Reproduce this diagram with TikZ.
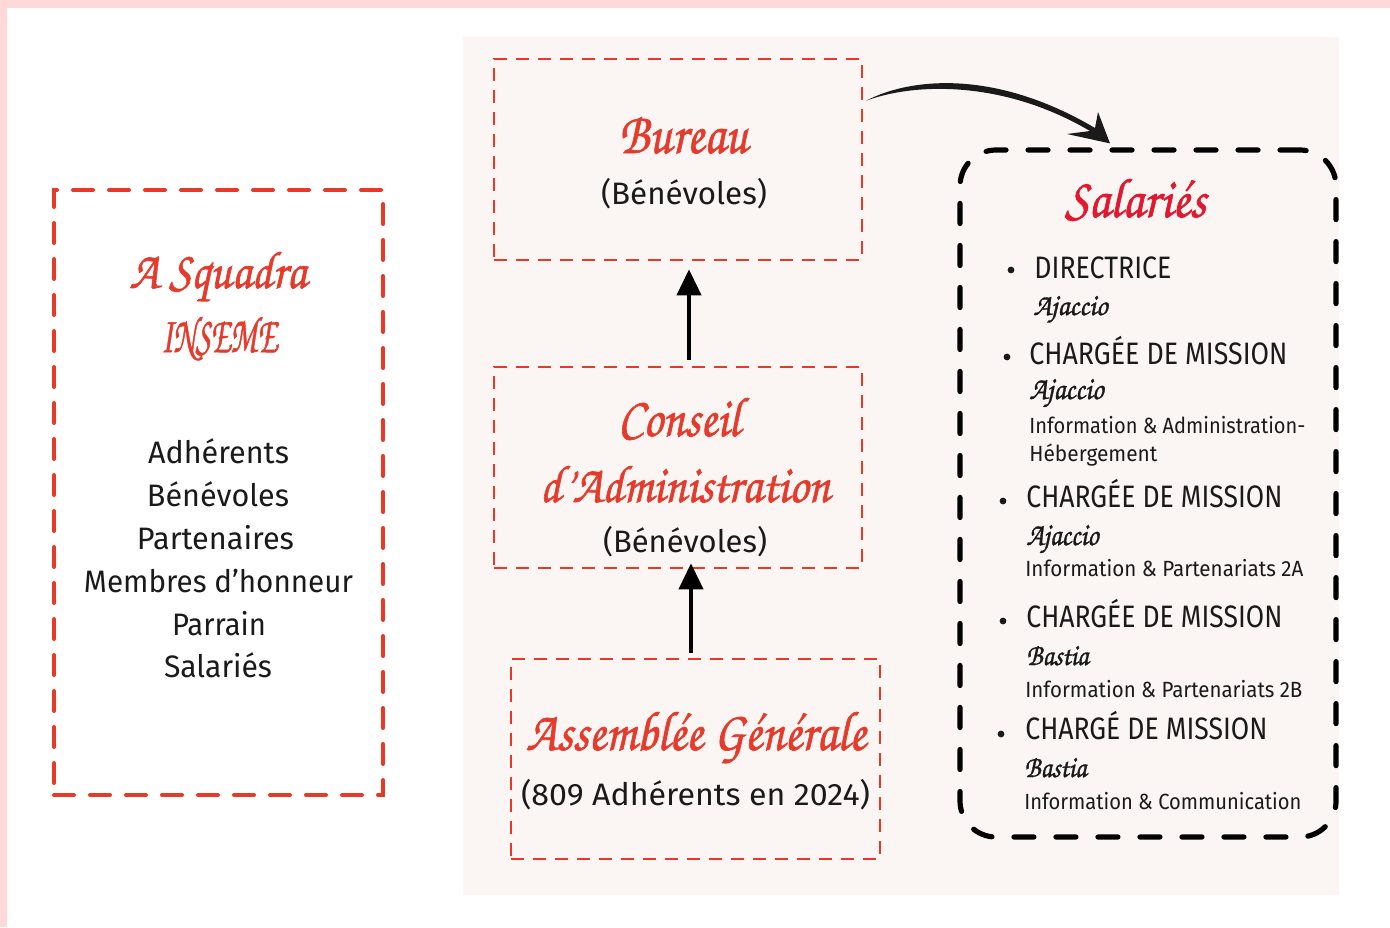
\documentclass[tikz,border=0pt]{standalone}
\usepackage{graphicx}
\usepackage{fontspec}
\setmainfont{Fira Sans}
\newfontfamily\scr[AutoFakeBold=1.2]{texgyrechorus-mediumitalic.otf}
\usetikzlibrary{arrows.meta,calc}
\definecolor{pinkb}{HTML}{FFD9DA}
\definecolor{panel}{HTML}{FBF6F4}
\definecolor{boxred}{HTML}{E63A26}
\definecolor{titred}{HTML}{E53B2C}
\definecolor{salred}{HTML}{E1192E}
\definecolor{ink}{HTML}{1A1A1A}
\newcommand\fw[2]{\resizebox{#1}{\height}{#2}}
\newcommand\sh[3]{\resizebox{#1}{#2}{\scr\bfseries #3}}
\tikzset{
  redbox/.style={draw=boxred, line width=1.3pt, dash pattern=on 6.5pt off 4.5pt, inner sep=0pt},
  bigred/.style={draw=boxred, line width=2pt, line cap=round, dash pattern=on 10pt off 8pt, inner sep=0pt},
  blackbox/.style={draw=black, line width=2.6pt, line cap=round, dash pattern=on 10pt off 11pt, rounded corners=18pt, inner sep=0pt},
  body/.style={font=\fontsize{15.5}{18}\selectfont, text=ink, inner sep=0pt},
  small/.style={font=\fontsize{11}{13}\selectfont, text=ink, inner sep=0pt},
  ttl/.style={text=titred, inner sep=0pt},
  vert/.style={line width=2pt, -{Triangle[length=13pt,width=12pt]}},
  bul/.style={circle, fill=ink, inner sep=0pt, minimum size=3.4pt},
}
\begin{document}
\begin{tikzpicture}[x=0.5pt,y=-0.5pt]
\useasboundingbox (0,0) rectangle (1390,927);
\fill[white] (0,0) rectangle (1390,927);
\fill[pinkb] (0,0) rectangle (1390,8);
\fill[pinkb] (0,0) rectangle (7,927);
\fill[panel] (463,37) rectangle (1339,895);

% boxes
\node[bigred, minimum width=164.5pt, minimum height=302.5pt] (left) at (218.5,492.5) {};
\node[redbox, minimum width=184pt, minimum height=100.5pt] (bureau) at (678,159.5) {};
\node[redbox, minimum width=184pt, minimum height=100.5pt] (conseil) at (678,467.5) {};
\node[redbox, minimum width=184.5pt, minimum height=100pt] (assemb) at (695.5,759) {};
\node[blackbox, minimum width=188pt, minimum height=343.5pt] (salaries) at (1148,493.5) {};

% left box text
\node[ttl, anchor=base] (sq1) at (218,288) {\sh{88.5pt}{18pt}{A Squadra}};
\node[ttl, anchor=base] (sq2) at (219,352) {\sh{58pt}{17.5pt}{INSEME}};
\node[body, anchor=base] (l1) at (218.5,463) {\fw{70.5pt}{Adhérents}};
\node[body, anchor=base] (l2) at (218,506) {\fw{71pt}{Bénévoles}};
\node[body, anchor=base] (l3) at (215.5,549) {\fw{78.5pt}{Partenaires}};
\node[body, anchor=base] (l4) at (218.5,592) {\fw{134.5pt}{Membres d’honneur}};
\node[body, anchor=base] (l5) at (219,635) {\fw{47pt}{Parrain}};
\node[body, anchor=base] (l6) at (218,677) {\fw{54pt}{Salariés}};

% bureau
\node[ttl, anchor=base] (bt) at (683.5,153) {\sh{64.5pt}{18pt}{Bureau}};
\node[body, anchor=base] (bb) at (684,204) {\fw{83pt}{(Bénévoles)}};
% conseil
\node[ttl, anchor=base] (ct1) at (679,436) {\sh{61pt}{19pt}{Conseil}};
\node[ttl, anchor=base] (ct2) at (685,502) {\sh{145pt}{18pt}{d’Administration}};
\node[body, anchor=base] (cb) at (685,552) {\fw{82pt}{(Bénévoles)}};
% assemblee
\node[ttl, anchor=base] (at) at (696,750) {\sh{170pt}{19pt}{Assemblée Générale}};
\node[body, anchor=base] (ab) at (695.5,805) {\fw{174.5pt}{(809 Adhérents en 2024)}};

% salaries
\node[anchor=base, inner sep=0pt, text=salred] (st) at (1135.5,217) {\sh{70.5pt}{19pt}{Salariés}};

\node[bul] (b1) at (1011,270) {};
\node[body, anchor=base west] (d1) at (1034,278) {\fw{68.5pt}{DIRECTRICE}};
\node[anchor=base west, inner sep=0pt, text=ink] (p1) at (1033,315) {\sh{37pt}{9.5pt}{Ajaccio}};

\node[bul] (b2) at (1007,357) {};
\node[body, anchor=base west] (d2) at (1029,364) {\fw{129pt}{CHARGÉE DE MISSION}};
\node[anchor=base west, inner sep=0pt, text=ink] (p2) at (1029,399) {\sh{37pt}{10pt}{Ajaccio}};
\node[small, anchor=base west] (i2a) at (1029,433) {\fw{138pt}{Information \& Administration-}};
\node[small, anchor=base west] (i2b) at (1029,461) {\fw{64pt}{Hébergement}};

\node[bul] (b3) at (1003,501) {};
\node[body, anchor=base west] (d3) at (1026,507) {\fw{128pt}{CHARGÉE DE MISSION}};
\node[anchor=base west, inner sep=0pt, text=ink] (p3) at (1026,545) {\sh{36pt}{10pt}{Ajaccio}};
\node[small, anchor=base west] (i3) at (1025,576) {\fw{139pt}{Information \& Partenariats 2A}};

\node[bul] (b4) at (1003,621) {};
\node[body, anchor=base west] (d4) at (1026,627) {\fw{128pt}{CHARGÉE DE MISSION}};
\node[anchor=base west, inner sep=0pt, text=ink] (p4) at (1026,665) {\sh{31pt}{9.5pt}{Bastia}};
\node[small, anchor=base west] (i4) at (1025,697) {\fw{138.5pt}{Information \& Partenariats 2B}};

\node[bul] (b5) at (1001,734) {};
\node[body, anchor=base west] (d5) at (1025,739) {\fw{121pt}{CHARGÉ DE MISSION}};
\node[anchor=base west, inner sep=0pt, text=ink] (p5) at (1024,777) {\sh{31pt}{9.5pt}{Bastia}};
\node[small, anchor=base west] (i5) at (1024,809) {\fw{138.5pt}{Information \& Communication}};

% vertical arrows
\draw[vert] ($(conseil.north)+(11,-6)$) -- ($(bureau.south)+(11,8)$);
\draw[vert] ($(assemb.north)+(-4.5,-5)$) -- ($(conseil.south)+(13,-6)$);

% curved brush arrow
\coordinate (cs) at ($(bureau.north east)+(3,43)$);
\coordinate (ce) at ($(salaries.north)+(-38,-4)$);
\fill[ink] (cs) .. controls (905,80) and (990,66) .. (1095,128)
  -- (1098,112) -- (ce) -- (1067,134) -- (1090,131)
  .. controls (1000,78) and (910,84) .. (cs) -- cycle;
\end{tikzpicture}
\end{document}
